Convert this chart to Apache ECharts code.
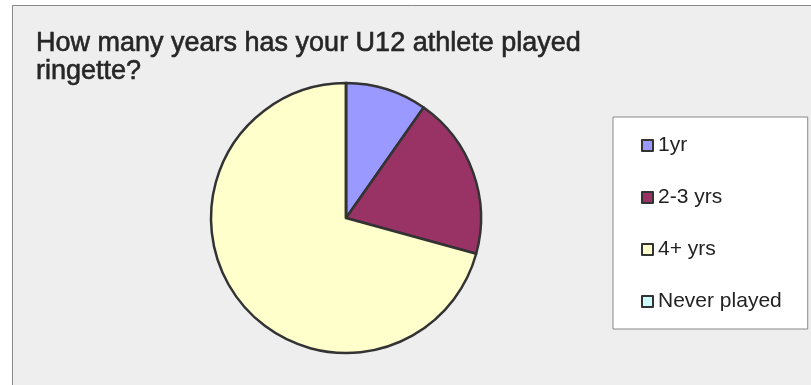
<!DOCTYPE html>
<html>
<head>
<meta charset="utf-8">
<script src="https://cdn.jsdelivr.net/npm/echarts@6/dist/echarts.min.js"></script>
<style>
  html, body { margin: 0; padding: 0; background: #ffffff; }
  #chart { width: 811px; height: 385px; }
</style>
</head>
<body>
<div id="chart"></div>
<script>
// Survey answers: how long U12 athletes have played ringette
const categories = ['1yr', '2-3 yrs', '4+ yrs', 'Never played'];
const counts = [4, 8, 29, 0];
const sliceColors = ['#9999ff', '#993366', '#ffffcc', '#ccffff'];
const titleText = 'How many years has your U12 athlete played\nringette?';

const chart = echarts.init(document.getElementById('chart'), null, { renderer: 'canvas' });

const pieData = categories.map((name, i) => ({
  name: name,
  value: counts[i],
  itemStyle: { color: sliceColors[i] }
}));

chart.setOption({
  animation: false,
  backgroundColor: '#ffffff',
  graphic: [
    {
      // grey plot frame running off the right and bottom edges
      type: 'rect',
      z: -10,
      shape: { x: 12.5, y: 5.5, width: 840, height: 420 },
      style: { fill: '#eeeeee', stroke: '#888888', lineWidth: 1 }
    }
  ],
  title: {
    text: titleText,
    left: 36,
    top: 30,
    padding: 0,
    textStyle: {
      fontFamily: 'Liberation Sans, Arial, sans-serif',
      fontSize: 27,
      fontWeight: 'normal',
      color: '#262626',
      textBorderColor: '#262626',
      textBorderWidth: 0.6,
      lineHeight: 28
    }
  },
  legend: {
    orient: 'vertical',
    left: 613,
    top: 117,
    padding: [18, 26, 17, 28],
    itemGap: 31,
    itemWidth: 11,
    itemHeight: 11,
    icon: 'rect',
    backgroundColor: '#ffffff',
    borderColor: '#888888',
    borderWidth: 1,
    borderRadius: 0,
    selectedMode: false,
    itemStyle: { borderColor: '#333333', borderWidth: 2 },
    textStyle: {
      fontFamily: 'Liberation Sans, Arial, sans-serif',
      fontSize: 21,
      lineHeight: 21,
      color: '#222222',
      padding: [0, 0, 0, 0]
    },
    data: categories
  },
  series: [
    {
      type: 'pie',
      center: [346, 218],
      radius: [0, 135],
      startAngle: 90,
      clockwise: true,
      avoidLabelOverlap: false,
      label: { show: false },
      labelLine: { show: false },
      emphasis: { disabled: true },
      itemStyle: { borderColor: '#333333', borderWidth: 2.5 },
      data: pieData
    }
  ]
});
</script>
</body>
</html>
